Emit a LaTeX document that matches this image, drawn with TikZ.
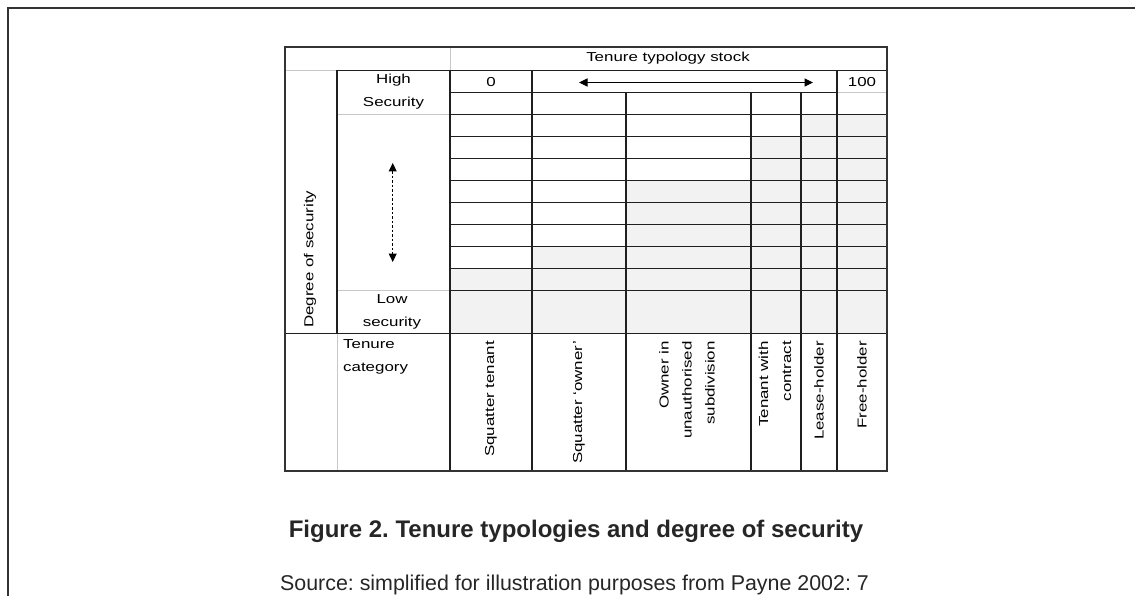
\documentclass[tikz,border=0pt]{standalone}
\usepackage{fontspec}
\setmainfont{Liberation Sans}
\newfontfamily\tabfont[FakeStretch=1.3]{Liberation Sans}
\usetikzlibrary{arrows.meta}
\frenchspacing
\begin{document}
\begin{tikzpicture}[x=1pt,y=-1pt,
  gridline/.style={line width=1.3pt, draw=black!88},
  outerline/.style={line width=1.8pt, draw=black!80},
  lightline/.style={line width=1pt, draw=black!22},
  shade/.style={fill=black!5, draw=none},
  lab/.style={font=\tabfont\fontsize{13}{23}\selectfont, inner sep=0pt, text=black},
  tip/.style={{Triangle[length=8.5pt,width=8pt]}-{Triangle[length=8.5pt,width=8pt]}}
]
\useasboundingbox (0,0) rectangle (1135,596);
% page frame
\draw[line width=1.3pt, black!80] (1135,8) -- (8,8) -- (8,596);

% shaded cells
\fill[shade] (450,268.5) rectangle (532,333.3);
\fill[shade] (532,246.5) rectangle (626,333.3);
\fill[shade] (626,180.5) rectangle (751,333.3);
\fill[shade] (751,136.5) rectangle (801,333.3);
\fill[shade] (801,114.5) rectangle (887,333.3);

% light lines
\draw[lightline] (285,70.5) -- (337,70.5);
\draw[lightline] (450,46.7) -- (450,70.5);
\draw[lightline] (337,333.3) -- (337,471);
\draw[lightline] (837,92.5) -- (887,92.5);
\draw[lightline] (337,114.5) -- (450,114.5);
\draw[lightline] (337,290.5) -- (450,290.5);

% black grid
\draw[gridline] (337,70.5) -- (887,70.5);
\draw[gridline] (337,70.5) -- (337,333.3);
\foreach \x in {450,532,837} \draw[gridline] (\x,70.5) -- (\x,471);
\foreach \x in {626,751,801} \draw[gridline] (\x,92.5) -- (\x,471);
\draw[gridline] (450,92.5) -- (837,92.5);
\foreach \y in {114.5,136.5,158.5,180.5,202.5,224.5,246.5,268.5,290.5}
  \draw[gridline] (450,\y) -- (887,\y);
\draw[gridline] (285,333.3) -- (887,333.3);

% outer border
\draw[outerline] (285,471) -- (285,46.7) -- (887,46.7) -- (887,471) -- cycle;

% texts
\node[lab] (title) at (668,58.5) {Tenure typology stock};
\node[lab] (zero) at (491,82) {0};
\node[lab] (hundred) at (862,82) {100};
\coordinate (arL) at (579,82.5);
\coordinate (arR) at (813,82.5);
\draw[tip, line width=1pt, black] (arL) -- (arR);

\node[lab, align=center] (high) at (393.5,91.5) {High\\Security};
\node[lab, align=center] (low) at (392,312) {Low\\security};
\coordinate (arT) at (392.7,163);
\coordinate (arB) at (392.7,262);
\draw[tip, line width=1pt, black, dash pattern=on 2.5pt off 2pt] (arT) -- (arB);
\node[lab, align=left, anchor=north west] (tencat) at (343,339) {Tenure\\category};
\node[lab, rotate=90, anchor=west] (degree) at (310,328) {Degree of security};

\node[lab, rotate=90, anchor=east, align=right] (sqt) at (491,341) {Squatter tenant};
\node[lab, rotate=90, anchor=east, align=right] (sqo) at (579,341) {Squatter ‘owner’};
\node[lab, rotate=90, anchor=east, align=right] (own) at (687,341) {Owner in\\unauthorised\\subdivision};
\node[lab, rotate=90, anchor=east, align=right] (ten) at (775,341) {Tenant with\\contract};
\node[lab, rotate=90, anchor=east, align=right] (lease) at (819,341) {Lease-holder};
\node[lab, rotate=90, anchor=east, align=right] (free) at (862,341) {Free-holder};

% caption
\node[font=\bfseries\fontsize{24}{28}\selectfont, anchor=base, inner sep=0pt, text=black!85] (caption) at (576,537) {Figure 2. Tenure typologies and degree of security};
\node[font=\fontsize{21.4}{26}\selectfont, anchor=base, inner sep=0pt, text=black!85] (source) at (574.5,590) {Source: simplified for illustration purposes from Payne 2002: 7};
\end{tikzpicture}
\end{document}
